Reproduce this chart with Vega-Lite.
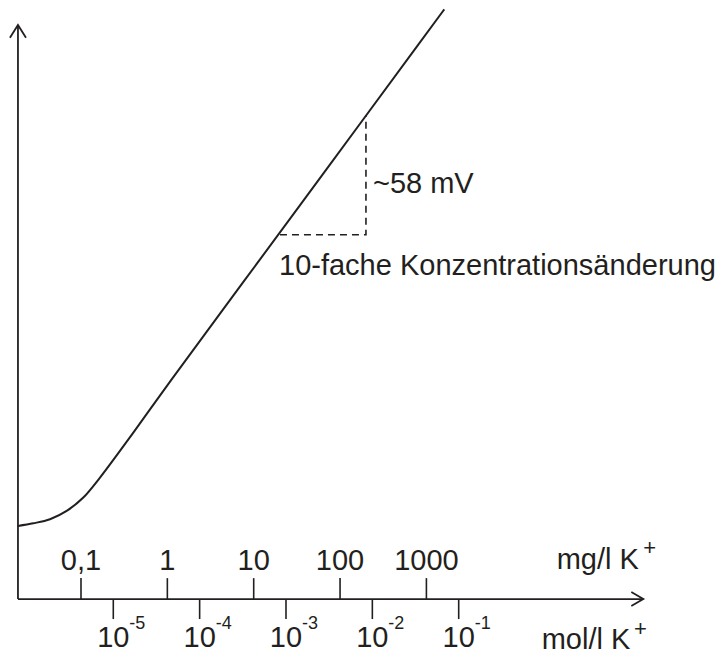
{
  "$schema": "https://vega.github.io/schema/vega-lite/v6.json",
  "width": 719,
  "height": 655,
  "padding": 0,
  "autosize": {"type": "fit", "contains": "padding"},
  "background": "white",
  "view": {"stroke": null},
  "config": {"text": {"font": "Liberation Sans", "color": "#231f20"}},
  "datasets": {
    "axes": [
      {"id": "xaxis", "o": 0, "x": -6.104, "y": 0},
      {"id": "xaxis", "o": 1, "x": 1.138, "y": 0},
      {"id": "xarrow", "o": 0, "x": 0.999, "y": 3.45},
      {"id": "xarrow", "o": 1, "x": 1.138, "y": 0},
      {"id": "xarrow", "o": 2, "x": 0.999, "y": -3.45},
      {"id": "yaxis", "o": 0, "x": -6.104, "y": 0},
      {"id": "yaxis", "o": 1, "x": -6.104, "y": 283.3},
      {"id": "yarrow", "o": 0, "x": -6.197, "y": 277.0},
      {"id": "yarrow", "o": 1, "x": -6.104, "y": 283.3},
      {"id": "yarrow", "o": 2, "x": -6.011, "y": 277.0}
    ],
    "molTicks": [
      {"x": -5, "label": "10", "exp": "-5"},
      {"x": -4, "label": "10", "exp": "-4"},
      {"x": -3, "label": "10", "exp": "-3"},
      {"x": -2, "label": "10", "exp": "-2"},
      {"x": -1, "label": "10", "exp": "-1"}
    ],
    "mgTicks": [
      {"x": -5.374, "label": "0,1"},
      {"x": -4.374, "label": "1"},
      {"x": -3.374, "label": "10"},
      {"x": -2.374, "label": "100"},
      {"x": -1.374, "label": "1000"}
    ],
    "curve": [
      {"x": -6.104, "y": 36.1},
      {"x": -5.926, "y": 37.4},
      {"x": -5.733, "y": 39.4},
      {"x": -5.540, "y": 43.5},
      {"x": -5.347, "y": 50.1},
      {"x": -5.154, "y": 59.95},
      {"x": -4.961, "y": 70.9},
      {"x": -4.768, "y": 82.1},
      {"x": -4.575, "y": 93.6},
      {"x": -4.324, "y": 108.4},
      {"x": -3.5, "y": 156.1},
      {"x": -2.5, "y": 213.9},
      {"x": -1.5, "y": 271.7},
      {"x": -1.167, "y": 291.0}
    ],
    "triangle": [
      {"o": 0, "x": -3.070, "y": 179.8},
      {"o": 1, "x": -2.074, "y": 179.8},
      {"o": 2, "x": -2.074, "y": 238.9}
    ],
    "notes": [
      {"x": -1.993, "y": 200.6, "text": "~58 mV"},
      {"x": -3.081, "y": 160.1, "text": "10-fache Konzentrationsänderung"},
      {"x": 0.135, "y": 14.78, "text": "mg/l K"},
      {"x": -0.039, "y": -24.63, "text": "mol/l K"}
    ],
    "plus": [
      {"x": 1.138, "y": 21.82, "text": "+"},
      {"x": 1.030, "y": -18.23, "text": "+"}
    ]
  },
  "layer": [
    {
      "data": {"name": "axes"},
      "mark": {"type": "line", "color": "#231f20", "strokeWidth": 1.8, "strokeCap": "butt"},
      "encoding": {
        "x": {"field": "x", "type": "quantitative", "scale": {"domain": [-6.312, 2.0145], "nice": false, "zero": false}, "axis": null},
        "y": {"field": "y", "type": "quantitative", "scale": {"domain": [-27.1, 295.6], "nice": false, "zero": false}, "axis": null},
        "detail": {"field": "id"},
        "order": {"field": "o"}
      }
    },
    {
      "data": {"name": "molTicks"},
      "mark": {"type": "rule", "color": "#231f20", "strokeWidth": 1.6},
      "encoding": {
        "x": {"field": "x", "type": "quantitative"},
        "y": {"datum": 0},
        "y2": {"datum": -9.85}
      }
    },
    {
      "data": {"name": "mgTicks"},
      "mark": {"type": "rule", "color": "#231f20", "strokeWidth": 1.6},
      "encoding": {
        "x": {"field": "x", "type": "quantitative"},
        "y": {"datum": 0},
        "y2": {"datum": 10.34}
      }
    },
    {
      "data": {"name": "molTicks"},
      "mark": {"type": "text", "fontSize": 29, "align": "center", "baseline": "alphabetic"},
      "encoding": {
        "x": {"field": "x", "type": "quantitative"},
        "y": {"datum": -23.65},
        "text": {"field": "label"}
      }
    },
    {
      "data": {"name": "molTicks"},
      "mark": {"type": "text", "fontSize": 18, "align": "left", "baseline": "alphabetic", "dx": 16},
      "encoding": {
        "x": {"field": "x", "type": "quantitative"},
        "y": {"datum": -14.78},
        "text": {"field": "exp"}
      }
    },
    {
      "data": {"name": "mgTicks"},
      "mark": {"type": "text", "fontSize": 29, "align": "center", "baseline": "alphabetic"},
      "encoding": {
        "x": {"field": "x", "type": "quantitative"},
        "y": {"datum": 14.43},
        "text": {"field": "label"}
      }
    },
    {
      "data": {"name": "curve"},
      "mark": {"type": "line", "color": "#231f20", "strokeWidth": 2, "interpolate": "monotone"},
      "encoding": {
        "x": {"field": "x", "type": "quantitative"},
        "y": {"field": "y", "type": "quantitative"}
      }
    },
    {
      "data": {"name": "triangle"},
      "mark": {"type": "line", "color": "#231f20", "strokeWidth": 1.6, "strokeDash": [7, 5]},
      "encoding": {
        "x": {"field": "x", "type": "quantitative"},
        "y": {"field": "y", "type": "quantitative"},
        "order": {"field": "o"}
      }
    },
    {
      "data": {"name": "notes"},
      "mark": {"type": "text", "fontSize": 29, "align": "left", "baseline": "alphabetic"},
      "encoding": {
        "x": {"field": "x", "type": "quantitative"},
        "y": {"field": "y", "type": "quantitative"},
        "text": {"field": "text"}
      }
    },
    {
      "data": {"name": "plus"},
      "mark": {"type": "text", "fontSize": 22, "align": "left", "baseline": "alphabetic"},
      "encoding": {
        "x": {"field": "x", "type": "quantitative"},
        "y": {"field": "y", "type": "quantitative"},
        "text": {"field": "text"}
      }
    }
  ]
}
